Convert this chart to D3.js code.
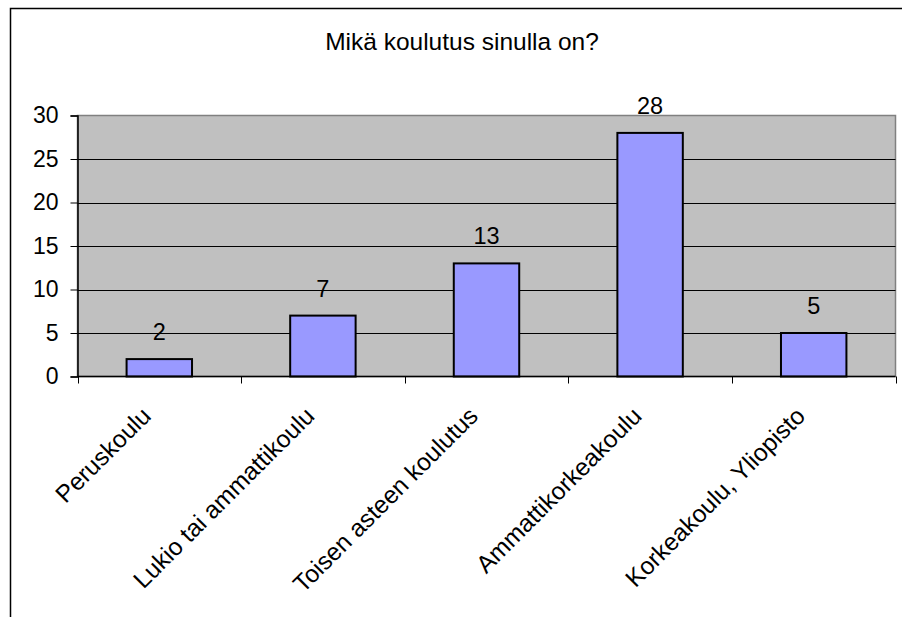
<!DOCTYPE html>
<html><head><meta charset="utf-8">
<script src="https://cdn.jsdelivr.net/npm/d3@7"></script>
<style>body{margin:0;background:#fff}svg{display:block}text{font-family:"Liberation Sans",Arial,sans-serif;fill:#000}</style>
</head><body>
<svg id="c" width="902" height="617"></svg>
<script>
const title = "Mikä koulutus sinulla on?";
const categories = ["Peruskoulu","Lukio tai ammattikoulu","Toisen asteen koulutus","Ammattikorkeakoulu","Korkeakoulu, Yliopisto"];
const values = [2,7,13,28,5];
const yTicks = [0,5,10,15,20,25,30];

const svg = d3.select("#c");
const L = 77.5, R = 895.5, T = 115.5, B = 376.5;
const FS = 23;
svg.append("path").attr("d","M10.5,617V8.5H902").attr("fill","none").attr("stroke","#000").attr("stroke-width",1.5);
svg.append("text").attr("x",462).attr("y",50).attr("text-anchor","middle").attr("font-size",24.5).text(title);

const x = d3.scaleBand().domain(categories).range([L,R]).paddingInner(0.6).paddingOuter(0.3);
const xb = d3.scaleBand().domain(categories).range([L,R]);
const y = d3.scaleLinear().domain([0,30]).range([B,T]);

svg.append("rect").attr("x",L).attr("y",T).attr("width",R-L).attr("height",B-T).attr("fill","#c0c0c0").attr("stroke","#808080").attr("stroke-width",1.5);
svg.append("g").selectAll("line").data(yTicks.filter(d=>d>0 && d<30)).join("line")
  .attr("x1",L).attr("x2",R).attr("y1",d=>Math.round(y(d))+0.5).attr("y2",d=>Math.round(y(d))+0.5).attr("stroke","#000").attr("stroke-width",1);

svg.append("g").selectAll("rect").data(values).join("rect")
  .attr("x",(d,i)=>x(categories[i])).attr("width",x.bandwidth())
  .attr("y",d=>y(d)).attr("height",d=>B-y(d))
  .attr("fill","#9999ff").attr("stroke","#000").attr("stroke-width",2);

svg.append("g").selectAll("text").data(values).join("text")
  .attr("x",(d,i)=>x(categories[i])+x.bandwidth()/2).attr("y",d=>y(d)-19)
  .attr("text-anchor","middle").attr("font-size",FS+0.5).text(d=>d);

// axes
const ya = svg.append("g").attr("transform",`translate(${L},0)`)
  .call(d3.axisLeft(y).tickValues(yTicks).tickSize(7).tickPadding(12));
ya.select(".domain").attr("stroke","#000").attr("stroke-width",1.5);
ya.selectAll(".tick line").attr("stroke","#000");
ya.selectAll(".tick text").attr("font-size",FS).attr("font-family","Liberation Sans, Arial, sans-serif").attr("fill","#000");

svg.append("line").attr("x1",L).attr("x2",R).attr("y1",B).attr("y2",B).attr("stroke","#000").attr("stroke-width",1.5);
const bounds = categories.map(c=>xb(c)).concat([R]);
svg.append("g").selectAll("line").data(bounds).join("line")
  .attr("x1",d=>Math.round(d)+0.5).attr("x2",d=>Math.round(d)+0.5).attr("y1",B).attr("y2",B+7).attr("stroke","#000");

svg.append("g").selectAll("text").data(categories).join("text")
  .attr("transform",d=>`translate(${xb(d)+xb.bandwidth()/2-7},${B+41}) rotate(-45)`)
  .attr("text-anchor","end").attr("font-size",24.5).text(d=>d);
</script>
</body></html>
